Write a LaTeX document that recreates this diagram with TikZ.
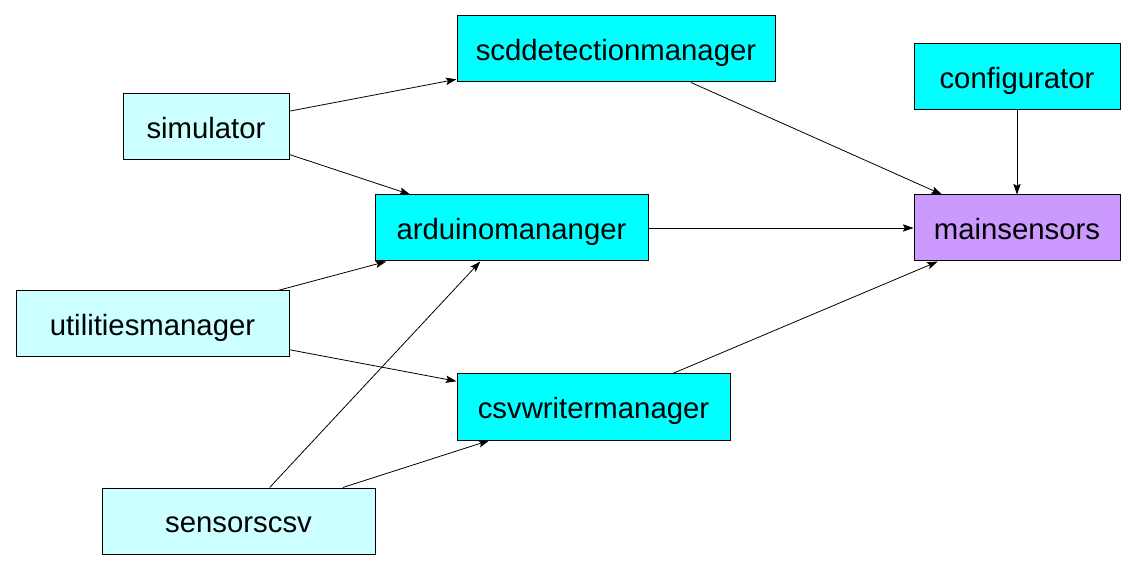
\documentclass[tikz,border=0pt]{standalone}
\usepackage{fontspec}
\setmainfont{Liberation Sans}
\usetikzlibrary{arrows.meta}
\definecolor{modcyan}{RGB}{0,255,255}
\definecolor{modlight}{RGB}{204,255,255}
\definecolor{modmain}{RGB}{204,153,255}
\begin{document}
\begin{tikzpicture}[x=0.75pt,y=-0.75pt,
  modbox/.style={draw=black,line width=0.75pt,minimum height=49.5pt,inner sep=0pt,
    text height=17.5pt,text depth=0pt,font=\fontsize{22}{26}\selectfont},
  dep/.style={arrows={-Stealth[length=8pt,width=5.5pt,inset=1.5pt]},line width=0.6pt}]
  \useasboundingbox (0,0) rectangle (1136,570);
  \node[modbox,fill=modcyan,minimum width=238.5pt] (scd) at (616,49) {scddetectionmanager};
  \node[modbox,fill=modcyan,minimum width=154.5pt] (config) at (1017,77) {configurator};
  \node[modbox,fill=modlight,minimum width=124.5pt] (sim) at (206,127) {simulator};
  \node[modbox,fill=modcyan,minimum width=204.75pt] (arduino) at (511.5,228) {arduinomananger};
  \node[modbox,fill=modmain,minimum width=154.5pt] (main) at (1017,228) {mainsensors};
  \node[modbox,fill=modlight,minimum width=204.75pt] (util) at (152.5,324) {utilitiesmanager};
  \node[modbox,fill=modcyan,minimum width=204.75pt] (csvw) at (593.5,407) {csvwritermanager};
  \node[modbox,fill=modlight,minimum width=204.75pt] (csv) at (238.5,521) {sensorscsv};
  \draw[dep] (sim) -- (scd);
  \draw[dep] (sim) -- (arduino);
  \draw[dep] (scd) -- (main);
  \draw[dep] (config) -- (main);
  \draw[dep] (arduino) -- (main);
  \draw[dep] (csvw) -- (main);
  \draw[dep] (util) -- (arduino);
  \draw[dep] (util) -- (csvw);
  \draw[dep] (csv) -- (arduino);
  \draw[dep] (csv) -- (csvw);
\end{tikzpicture}
\end{document}
